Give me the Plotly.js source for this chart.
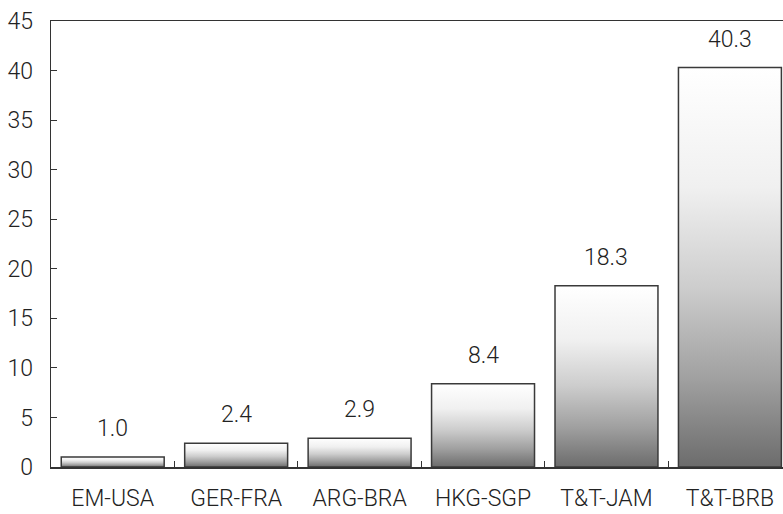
<!DOCTYPE html>
<html>
<head>
<meta charset="utf-8">
<script src="https://cdn.plot.ly/plotly-3.0.1.min.js"></script>
<style>html,body{margin:0;padding:0;background:#fff;}#chart{width:783px;height:514px;}</style>
</head>
<body>
<div id="chart"></div>
<script>
var categories = ["EM-USA", "GER-FRA", "ARG-BRA", "HKG-SGP", "T&T-JAM", "T&T-BRB"];
var values = [1.0, 2.4, 2.9, 8.4, 18.3, 40.3];
var valueLabels = ["1.0", "2.4", "2.9", "8.4", "18.3", "40.3"];
var yTicks = [0, 5, 10, 15, 20, 25, 30, 35, 40, 45];

var fontFam = "Roboto, Liberation Sans, sans-serif";
var txtColor = "#222222";
var fs = 23;
var fw = 300;

var trace = {
  type: "bar",
  x: categories,
  y: values,
  marker: {color: "#b0b0b0", line: {color: "#3a3a3a", width: 1.5}},
  hoverinfo: "none"
};

var annotations = categories.map(function (c, i) {
  return {x: c, y: values[i], text: valueLabels[i], showarrow: false,
          xref: "x", yref: "y", yanchor: "bottom", yshift: 13,
          font: {family: fontFam, size: fs, weight: fw, color: txtColor}};
});

var layout = {
  width: 783, height: 514,
  margin: {l: 51, r: 0, t: 21, b: 47},
  paper_bgcolor: "#fff", plot_bgcolor: "#fff",
  showlegend: false,
  bargap: 0.166,
  font: {family: fontFam, size: fs, weight: fw, color: txtColor},
  xaxis: {
    type: "category", range: [-0.5, 5.43],
    showline: true, mirror: true, linecolor: "#333", linewidth: 1.5,
    ticks: "inside", tickson: "boundaries", ticklen: 6, tickcolor: "#333", tickwidth: 1,
    showgrid: false, zeroline: false, ticklabelstandoff: 10,
    tickfont: {family: fontFam, size: fs, weight: fw, color: txtColor}
  },
  yaxis: {
    range: [0, 45], tickvals: yTicks, ticktext: yTicks.map(String),
    showline: true, linecolor: "#333", linewidth: 1.5,
    ticks: "inside", ticklen: 6, tickcolor: "#333", tickwidth: 1,
    showgrid: false, zeroline: false, ticklabelstandoff: 12,
    tickfont: {family: fontFam, size: fs, weight: fw, color: txtColor}
  },
  annotations: annotations
};

Plotly.newPlot("chart", [trace], layout, {displayModeBar: false, staticPlot: true}).then(function (gd) {
  var ns = "http://www.w3.org/2000/svg";
  var svg = gd.querySelector("svg.main-svg");
  var defs = svg.querySelector("defs") || svg.insertBefore(document.createElementNS(ns, "defs"), svg.firstChild);
  var grad = document.createElementNS(ns, "linearGradient");
  grad.setAttribute("id", "barGrad");
  grad.setAttribute("x1", "0"); grad.setAttribute("y1", "0");
  grad.setAttribute("x2", "0"); grad.setAttribute("y2", "1");
  [[0, "#ffffff"], [0.3, "#f0f0f0"], [0.55, "#cdcdcd"], [0.78, "#a0a0a0"], [1, "#6c6c6c"]].forEach(function (s) {
    var st = document.createElementNS(ns, "stop");
    st.setAttribute("offset", s[0]);
    st.setAttribute("stop-color", s[1]);
    grad.appendChild(st);
  });
  defs.appendChild(grad);
  gd.querySelectorAll(".bars .point path").forEach(function (p) {
    p.style.fill = "url(#barGrad)";
  });
});
</script>
</body>
</html>
